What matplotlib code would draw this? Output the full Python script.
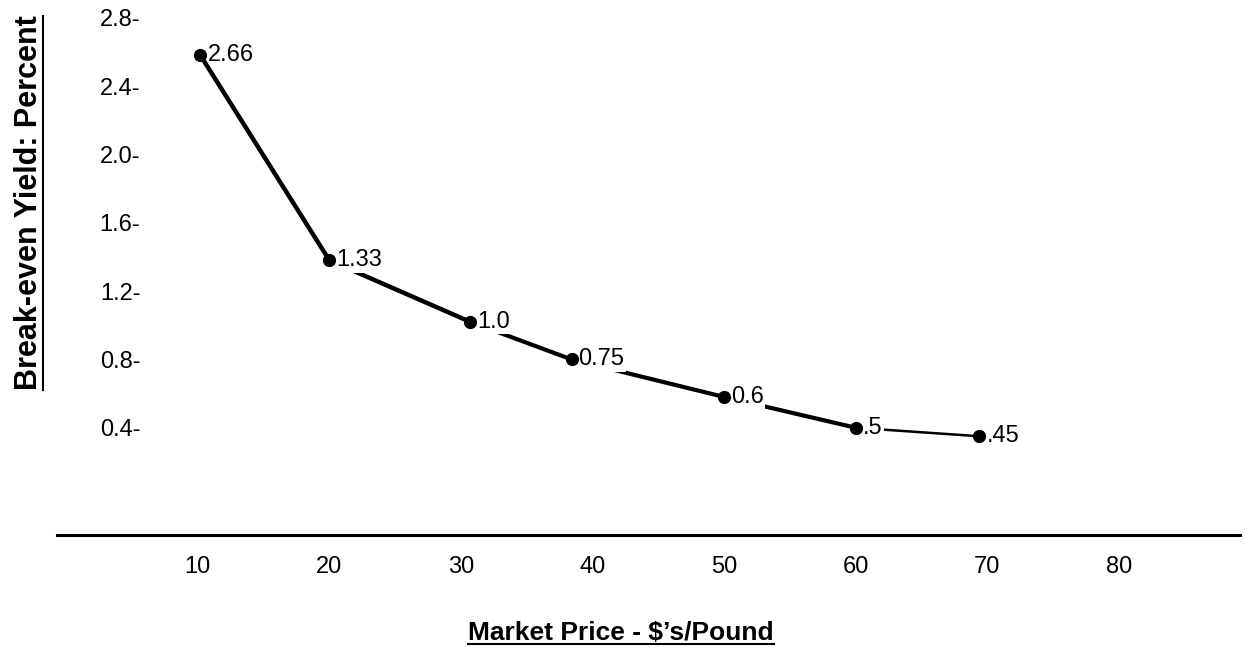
"""
Break-even yield vs market price
"""
import matplotlib
matplotlib.use('Agg')
import matplotlib.pyplot as plt
from matplotlib.lines import Line2D

# values
price = [10.2, 20.0, 30.7, 38.4, 50.0, 60.0, 69.4]
yield_pct = [2.58, 1.38, 1.02, 0.80, 0.58, 0.40, 0.35]
point_labels = ['2.66', '1.33', '1.0', '0.75', '0.6', '.5', '.45']
seg_widths = [3.2, 3.2, 3.0, 3.0, 3.0, 1.8]

xticks = [10, 20, 30, 40, 50, 60, 70, 80]
yticks = [0.4, 0.8, 1.2, 1.6, 2.0, 2.4, 2.8]
ytick_labels = ['0.4-', '0.8-', '1.2-', '1.6-', '2.0-', '2.4-', '2.8-']

xlabel = "Market Price - $\u2019s/Pound"
ylabel = "Break-even Yield: Percent"

plt.rcParams['font.family'] = ['Liberation Sans', 'DejaVu Sans']

W, H, dpi = 1254, 656, 100
fig = plt.figure(figsize=(W / dpi, H / dpi), dpi=dpi)
ax = fig.add_axes([57 / W, 1 - 535 / H, (1240 - 57) / W, (535 - 5) / H])
ax.set_xlim(-0.7, 89.2)
ax.set_ylim(-0.228, 2.875)

for i in range(len(price) - 1):
    # the labels sit on top of the line (white box), except the first one
    z = 3.5 if i == 0 else 2
    ax.plot(price[i:i + 2], yield_pct[i:i + 2], color='black',
            lw=seg_widths[i], solid_capstyle='butt', zorder=z)
ax.plot(price, yield_pct, 'o', color='black', ms=8.5, zorder=4)

for x, y, s in zip(price, yield_pct, point_labels):
    ax.annotate(s, (x, y), xytext=(5, 0), textcoords='offset points',
                ha='left', va='center', fontsize=17, zorder=3,
                bbox=dict(boxstyle='square,pad=0.05', fc='white', ec='none'))

for s in ['left', 'right', 'top']:
    ax.spines[s].set_visible(False)
ax.spines['bottom'].set_linewidth(2.2)

ax.set_xticks(xticks)
ax.set_xticklabels([str(t) for t in xticks], fontsize=17)
ax.tick_params(axis='x', length=0, pad=15)
ax.set_yticks(yticks)
ax.set_yticklabels(ytick_labels, fontsize=17)
ax.tick_params(axis='y', length=0, pad=-60)

tx = fig.text(621 / W, 1 - 633 / H, xlabel, ha='center', va='center',
              fontsize=19, fontweight='bold')
ty = fig.text(29 / W, 1 - 203 / H, ylabel, ha='center', va='center',
              rotation=90, fontsize=22, fontweight='bold')

# underline the axis titles
fig.canvas.draw()
r = fig.canvas.get_renderer()
inv = fig.transFigure.inverted()
bb = tx.get_window_extent(r).transformed(inv)
fig.add_artist(Line2D([bb.x0, bb.x1], [bb.y0 + 0.002, bb.y0 + 0.002],
                      color='black', lw=1.5))
bb = ty.get_window_extent(r).transformed(inv)
fig.add_artist(Line2D([bb.x1 - 0.001, bb.x1 - 0.001], [bb.y0, bb.y1],
                      color='black', lw=1.5))

fig.savefig('out.png', dpi=dpi)
